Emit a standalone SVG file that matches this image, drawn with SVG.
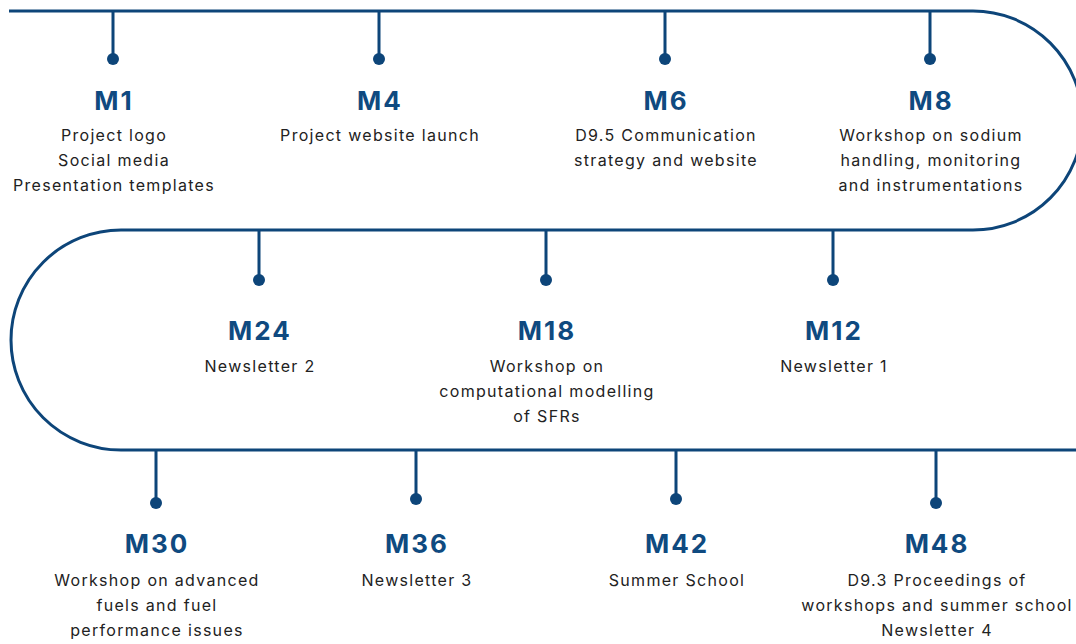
<svg xmlns="http://www.w3.org/2000/svg" width="1076" height="644" viewBox="0 0 1076 644">
<style>
.ln{fill:none;stroke:#0d4579;stroke-width:3}
.dot{fill:#0d4579}
.t{font-family:Inter,"Liberation Sans",sans-serif;font-weight:700;font-size:26px;fill:#0f4a80;text-anchor:middle;letter-spacing:2px}
.b{font-family:Inter,"Liberation Sans",sans-serif;font-size:16px;fill:#222;text-anchor:middle;letter-spacing:1.3px}
</style>
<rect width="1076" height="644" fill="#fff"/>
<g id="connectors">
<path class="ln" d="M9,11 H973 A109.5,109.5 0 0 1 973,230 H121 A110,110 0 0 0 121,450 H1076"/>
<path class="ln" d="M113,11 V59 M379,11 V59 M665,11 V59 M930,11 V59 M259,230 V280 M546,230 V280 M833,230 V280 M156,450 V503 M416,450 V499 M676,450 V499 M936,450 V503"/>
</g>
<g id="m1"><circle class="dot" cx="113" cy="59" r="6"/><text class="t" x="114" y="110">M1</text><text class="b" x="114" y="141">Project logo</text><text class="b" x="114" y="166">Social media</text><text class="b" x="114" y="191">Presentation templates</text></g>
<g id="m4"><circle class="dot" cx="379" cy="59" r="6"/><text class="t" x="380" y="110">M4</text><text class="b" x="380" y="141">Project website launch</text></g>
<g id="m6"><circle class="dot" cx="665" cy="59" r="6"/><text class="t" x="666" y="110">M6</text><text class="b" x="666" y="141">D9.5 Communication</text><text class="b" x="666" y="166">strategy and website</text></g>
<g id="m8"><circle class="dot" cx="930" cy="59" r="6"/><text class="t" x="931" y="110">M8</text><text class="b" x="931" y="141">Workshop on sodium</text><text class="b" x="931" y="166">handling, monitoring</text><text class="b" x="931" y="191">and instrumentations</text></g>
<g id="m24"><circle class="dot" cx="259" cy="280" r="6"/><text class="t" x="260" y="340">M24</text><text class="b" x="260" y="372">Newsletter 2</text></g>
<g id="m18"><circle class="dot" cx="546" cy="280" r="6"/><text class="t" x="547" y="340">M18</text><text class="b" x="547" y="372">Workshop on</text><text class="b" x="547" y="397">computational modelling</text><text class="b" x="547" y="422">of SFRs</text></g>
<g id="m12"><circle class="dot" cx="833" cy="280" r="6"/><text class="t" x="834" y="340">M12</text><text class="b" x="834" y="372">Newsletter 1</text></g>
<g id="m30"><circle class="dot" cx="156" cy="503" r="6"/><text class="t" x="157" y="553">M30</text><text class="b" x="157" y="586">Workshop on advanced</text><text class="b" x="157" y="611">fuels and fuel</text><text class="b" x="157" y="636">performance issues</text></g>
<g id="m36"><circle class="dot" cx="416" cy="499" r="6"/><text class="t" x="417" y="553">M36</text><text class="b" x="417" y="586">Newsletter 3</text></g>
<g id="m42"><circle class="dot" cx="676" cy="499" r="6"/><text class="t" x="677" y="553">M42</text><text class="b" x="677" y="586">Summer School</text></g>
<g id="m48"><circle class="dot" cx="936" cy="503" r="6"/><text class="t" x="937" y="553">M48</text><text class="b" x="937" y="586">D9.3 Proceedings of</text><text class="b" x="937" y="611">workshops and summer school</text><text class="b" x="937" y="636">Newsletter 4</text></g>
</svg>
